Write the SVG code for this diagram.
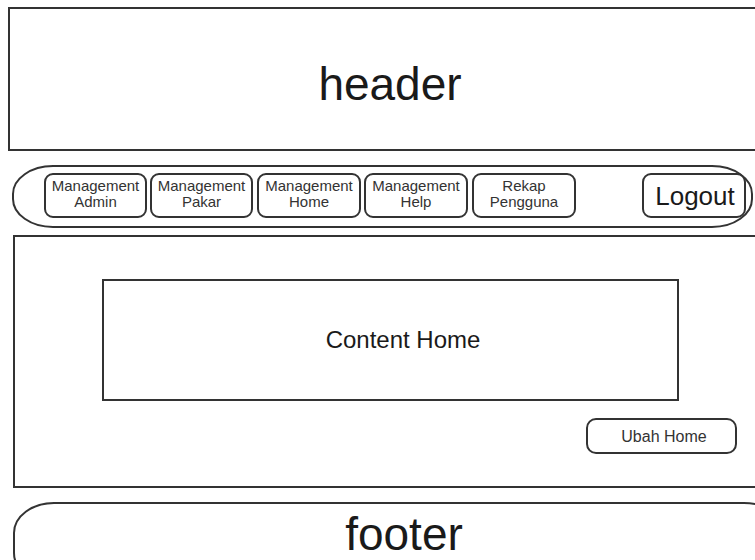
<svg xmlns="http://www.w3.org/2000/svg" width="755" height="560" viewBox="0 0 755 560">
  <style>
    .box { fill: #ffffff; stroke: #333333; stroke-width: 2; }
    .btn { fill: #ffffff; stroke: #333333; stroke-width: 2; }
    text { font-family: "Liberation Sans", Arial, sans-serif; fill: #1a1a1a; text-anchor: middle; }
    .big { font-size: 46px; }
    .menu { font-size: 15px; fill: #333333; }
  </style>
  <rect width="755" height="560" fill="#ffffff"/>

  <!-- page header -->
  <g id="header">
    <rect class="box" x="9" y="8" width="760" height="142"/>
    <text class="big" x="390" y="100">header</text>
  </g>

  <!-- navigation bar -->
  <g id="navbar">
    <rect class="box" x="13" y="166" width="739" height="61" rx="40" ry="28"/>
  </g>
  <g id="btn-admin">
    <rect class="btn" x="45" y="174" width="101" height="43" rx="8"/>
    <text class="menu" x="95.5" y="191">Management</text>
    <text class="menu" x="95.5" y="207">Admin</text>
  </g>
  <g id="btn-pakar">
    <rect class="btn" x="151" y="174" width="101" height="43" rx="8"/>
    <text class="menu" x="201.5" y="191">Management</text>
    <text class="menu" x="201.5" y="207">Pakar</text>
  </g>
  <g id="btn-home">
    <rect class="btn" x="258" y="174" width="102" height="43" rx="8"/>
    <text class="menu" x="309" y="191">Management</text>
    <text class="menu" x="309" y="207">Home</text>
  </g>
  <g id="btn-help">
    <rect class="btn" x="365" y="174" width="102" height="43" rx="8"/>
    <text class="menu" x="416" y="191">Management</text>
    <text class="menu" x="416" y="207">Help</text>
  </g>
  <g id="btn-rekap">
    <rect class="btn" x="473" y="174" width="102" height="43" rx="8"/>
    <text class="menu" x="524" y="191">Rekap</text>
    <text class="menu" x="524" y="207">Pengguna</text>
  </g>
  <g id="btn-logout">
    <rect class="btn" x="643" y="174" width="102" height="43" rx="8"/>
    <text x="695" y="205" style="font-size:26px">Logout</text>
  </g>

  <!-- main content area -->
  <g id="content">
    <rect class="box" x="14" y="236" width="760" height="251"/>
  </g>
  <g id="content-home">
    <rect class="box" x="103" y="280" width="575" height="120"/>
    <text x="403" y="348" style="font-size:24px">Content Home</text>
  </g>
  <g id="btn-ubah">
    <rect class="btn" x="587" y="419" width="149" height="34" rx="9"/>
    <text x="664" y="442" style="font-size:16px;fill:#333333">Ubah Home</text>
  </g>

  <!-- page footer -->
  <g id="footer">
    <rect class="box" x="14" y="503" width="770" height="80" rx="40" ry="30"/>
    <text class="big" x="404" y="550">footer</text>
  </g>

  <g id="connectors"></g>
</svg>
